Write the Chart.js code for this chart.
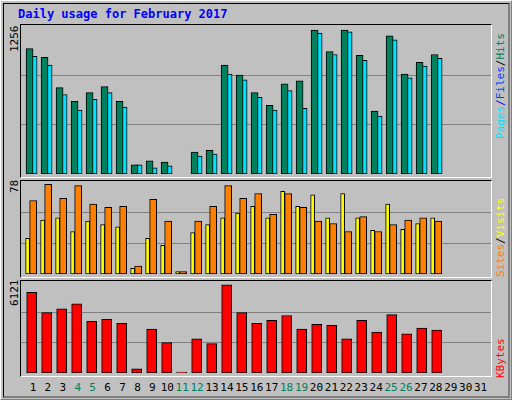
<!DOCTYPE html>
<html><head><meta charset="utf-8">
<script src="https://cdn.jsdelivr.net/npm/chart.js@4"></script>
<style>
body{margin:0;width:512px;height:400px;background:#c0c0c0;position:relative;overflow:hidden;font-family:"DejaVu Sans Mono",monospace}
.outer{position:absolute;left:0;top:0;width:510px;height:398px;border-top:1px solid #fff;border-left:1px solid #fff;border-right:1px solid #808080;border-bottom:1px solid #808080}
.inner{position:absolute;left:3px;top:3px;width:504px;height:392px;border-right:2px solid #808080;border-bottom:2px solid #808080;border-top:1px solid #000;border-left:1px solid #000}
.panel{position:absolute;left:20px;width:470px;border-top:1px solid #000;border-left:1px solid #000;border-right:1px solid #fff;border-bottom:1px solid #fff;background:#c0c0c0}
.panel canvas{position:absolute;left:0;top:0}
.t{position:absolute;font-size:11px;white-space:nowrap}
.rot{transform-origin:left top;transform:rotate(-90deg)}
</style></head><body>
<div class="outer"></div><div class="inner"></div>
<div class="t" style="left:18px;top:7px;font-size:12px;font-weight:bold;color:#0000ff">Daily usage for February 2017</div>
<div class="panel" style="top:24px;height:152px"><canvas id="c1"></canvas></div>
<div class="panel" style="top:180px;height:96px"><canvas id="c2"></canvas></div>
<div class="panel" style="top:280px;height:95px"><canvas id="c3"></canvas></div>
<div class="t rot" style="left:8px;top:52px">1256</div>
<div class="t rot" style="left:8px;top:193px">78</div>
<div class="t rot" style="left:8px;top:306px">6121</div>
<div class="t rot" style="left:494px;top:139px"><span style="color:#00e0ff">Pages</span><span style="color:#0000ff">/</span><span style="color:#0040ff">Files</span><span style="color:#000">/</span><span style="color:#00805c">Hits</span></div>
<div class="t rot" style="left:494px;top:277px"><span style="color:#ff8000">Sites</span><span style="color:#000">/</span><span style="color:#ffff00">Visits</span></div>
<div class="t rot" style="left:494px;top:378px;color:#ff0000">KBytes</div>
<div id="xl"></div>
<script>
const days=[1,2,3,4,5,6,7,8,9,10,11,12,13,14,15,16,17,18,19,20,21,22,23,24,25,26,27,28];
const dayLabels=["1","2","3","4","5","6","7","8","9","10","11","12","13","14","15","16","17","18","19","20","21","22","23","24","25","26","27","28","29","30","31"];
const weekendDays=[4,5,11,12,18,19,25,26];
const hits=[1094,1018,753,634,710,762,634,79,114,105,0,191,207,950,864,710,600,787,813,1256,1068,1256,1035,549,1205,872,975,1043];
const files=[1026,950,694,557,651,710,583,79,54,71,0,156,173,872,822,668,557,728,574,1230,1043,1240,992,506,1171,838,941,1009];
const pages=[71,79,97,71,88,79,88,14,79,45,0,97,88,131,173,122,122,114,71,114,71,344,88,79,131,45,54,97];
const sites=[31,47,49,37,46,43,41,5,31,25,2,36,43,49,53,59,49,72,59,69,49,70,49,38,61,39,44,49];
const visits=[64,78,66,77,61,58,59,7,65,46,2,46,59,77,66,70,52,70,58,46,44,37,50,37,43,47,49,46];
const kbytes=[5605,4193,4462,4798,3587,3722,3453,292,3049,2107,67,2376,2040,6121,4193,3453,3654,3991,3049,3386,3318,2376,3654,2847,4058,2713,3116,2982];

const XMIN=0.46,XMAX=31.79;
function pts(vals,off){return vals.map((v,i)=>({x:days[i]+off,y:v}));}
const grid={id:'grid',beforeDatasetsDraw(c){const a=c.chartArea,x=c.ctx;x.save();x.strokeStyle='#808080';x.lineWidth=1;
 [1/3,2/3].forEach(f=>{const y=Math.round(a.bottom-(a.bottom-a.top)*f)+0.5;x.beginPath();x.moveTo(a.left,y);x.lineTo(a.right,y);x.stroke();});x.restore();}};
function make(id,h,ymax,sets){
 const cv=document.getElementById(id);cv.width=470;cv.height=h;cv.style.width='470px';cv.style.height=h+'px';
 new Chart(cv,{type:'bar',data:{datasets:sets.map(s=>({data:pts(s.v,s.o),backgroundColor:s.c,borderColor:'#000',borderWidth:1,barThickness:s.w,grouped:false,borderSkipped:false}))},
 options:{responsive:false,animation:false,devicePixelRatio:1,layout:{padding:{top:0,bottom:3}},plugins:{legend:{display:false},tooltip:{enabled:false}},
 scales:{x:{type:'linear',min:XMIN,max:XMAX,offset:false,display:false,bounds:'ticks'},y:{min:0,max:ymax,display:false}}},plugins:[grid]});
}
make('c1',152,1300,[{v:hits,o:0.03,c:'#00805c',w:7},{v:files,o:0.3,c:'#00e0ff',w:7},{v:pages,o:-0.05,c:'#0040ff',w:2}]);
make('c2',96,81,[{v:sites,o:-0.1,c:'#ffff00',w:4},{v:visits,o:0.27,c:'#ff8000',w:7}]);
make('c3',95,6390,[{v:kbytes,o:0.17,c:'#ff0000',w:10}]);
const xl=document.getElementById('xl');
dayLabels.forEach((l,i)=>{const d=document.createElement('div');d.className='t';d.textContent=l;
 const cx=33+14.92*i;d.style.left=(cx-20)+'px';d.style.width='40px';d.style.textAlign='center';d.style.top='381px';
 d.style.color=weekendDays.includes(i+1)?'#00805c':'#000';xl.appendChild(d);});
</script></body></html>
